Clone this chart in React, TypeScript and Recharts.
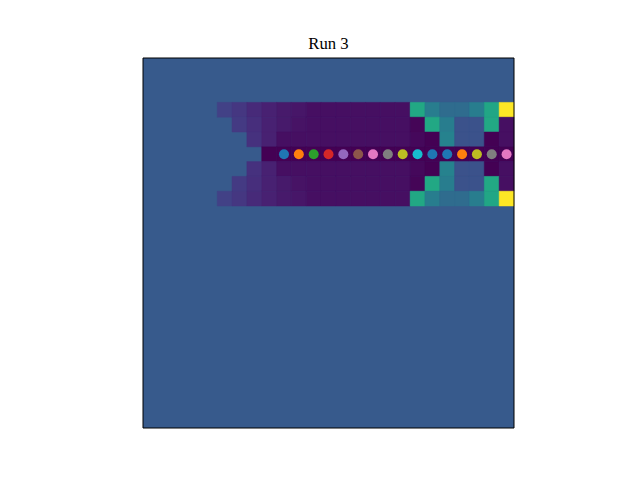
import { ScatterChart, Scatter, XAxis, YAxis, ReferenceArea } from "recharts";

// --- grid data (25 x 25 cells, null = background) ---
const gridSize = 25;
const backgroundValue = 0.28;

const row3 = [null, null, null, null, null, 0.19, 0.16, 0.12, 0.09, 0.07, 0.06, 0.04, 0.04, 0.04, 0.04, 0.04, 0.04, 0.04, 0.6, 0.42, 0.35, 0.35, 0.42, 0.59, 1.0];
const row4 = [null, null, null, null, null, null, 0.17, 0.13, 0.09, 0.07, 0.05, 0.04, 0.04, 0.04, 0.04, 0.04, 0.04, 0.04, 0.01, 0.6, 0.42, 0.25, 0.25, 0.6, 0.04];
const row5 = [null, null, null, null, null, null, null, 0.14, 0.09, 0.04, 0.04, 0.04, 0.04, 0.04, 0.04, 0.04, 0.04, 0.04, 0.02, 0.0, 0.44, 0.25, 0.25, 0.0, 0.04];
const row6 = [null, null, null, null, null, null, null, null, 0.0, 0.0, 0.0, 0.0, 0.0, 0.0, 0.0, 0.0, 0.0, 0.0, 0.0, 0.0, 0.0, 0.0, 0.0, 0.0, 0.0];
const row7 = [null, null, null, null, null, null, null, 0.14, 0.09, 0.04, 0.04, 0.04, 0.04, 0.04, 0.04, 0.04, 0.04, 0.04, 0.02, 0.0, 0.44, 0.25, 0.25, 0.0, 0.04];
const row8 = [null, null, null, null, null, null, 0.17, 0.13, 0.09, 0.07, 0.05, 0.04, 0.04, 0.04, 0.04, 0.04, 0.04, 0.04, 0.01, 0.6, 0.42, 0.25, 0.25, 0.6, 0.04];
const row9 = [null, null, null, null, null, 0.19, 0.16, 0.12, 0.09, 0.07, 0.06, 0.04, 0.04, 0.04, 0.04, 0.04, 0.04, 0.04, 0.6, 0.42, 0.35, 0.35, 0.42, 0.59, 1.0];

const heatRowIndex = [3, 4, 5, 6, 7, 8, 9];
const heatRowValues = [row3, row4, row5, row6, row7, row8, row9];

// --- markers along the centre row ---
const dotRow = 6;
const dotColumns = [9, 10, 11, 12, 13, 14, 15, 16, 17, 18, 19, 20, 21, 22, 23, 24];
const dotColors = [
  "#1f77b4", "#ff7f0e", "#2ca02c", "#d62728", "#9467bd", "#8c564b", "#e377c2", "#7f7f7f",
  "#bcbd22", "#17becf", "#1f77b4", "#1f77b4", "#ff7f0e", "#bcbd22", "#7f7f7f", "#e377c2",
];

const title = "Run 3";

// viridis stops every 0.05
const viridis = [
  "#440154", "#471365", "#482475", "#463480", "#414487", "#3b528b", "#355f8d",
  "#2f6c8e", "#2a788e", "#25848e", "#21918c", "#1e9c89", "#22a884", "#2fb47c",
  "#44bf70", "#5ec962", "#7ad151", "#9bd93c", "#bddf26", "#dfe318", "#fde725",
];

const hexToRgb = (h: string) => [1, 3, 5].map((i) => parseInt(h.slice(i, i + 2), 16));

const colorFor = (v: number) => {
  const t = Math.max(0, Math.min(1, v)) * (viridis.length - 1);
  const i = Math.min(Math.floor(t), viridis.length - 2);
  const f = t - i;
  const a = hexToRgb(viridis[i]);
  const b = hexToRgb(viridis[i + 1]);
  const c = a.map((x, k) => Math.round(x + (b[k] - x) * f));
  return `rgb(${c[0]},${c[1]},${c[2]})`;
};

const cells = heatRowIndex.flatMap((r, ri) =>
  heatRowValues[ri]
    .map((v, c) => ({ r, c, v }))
    .filter((d) => d.v !== null)
);

const dotData = dotColumns.map((c, i) => ({ x: c + 0.5, y: dotRow + 0.5, color: dotColors[i] }));

const Dot = (props: any) => (
  <circle cx={props.cx} cy={props.cy} r={5} fill={props.payload.color} />
);

export default function App() {
  return (
    <div style={{ position: "fixed", left: 0, top: 0, width: 640, height: 480, background: "#fff" }}>
      <svg width={640} height={480} style={{ position: "absolute", left: 0, top: 0 }}>
        <text
          x={328.5}
          y={49}
          textAnchor="middle"
          fontFamily="'Liberation Serif', 'Times New Roman', serif"
          fontSize={16.7}
          fill="#000"
        >
          {title}
        </text>
      </svg>
      <div style={{ position: "absolute", left: 0, top: 0 }}>
        <ScatterChart width={640} height={480} margin={{ top: 58, right: 126, bottom: 52, left: 143 }}>
          <XAxis type="number" dataKey="x" domain={[0, gridSize]} hide allowDataOverflow />
          <YAxis type="number" dataKey="y" domain={[0, gridSize]} reversed hide allowDataOverflow />

          {/* background fill */}
          <ReferenceArea x1={0} x2={gridSize} y1={0} y2={gridSize} fill={colorFor(backgroundValue)} fillOpacity={1} stroke="none" />

          {/* heatmap cells */}
          {cells.map((d) => (
            <ReferenceArea
              key={`${d.r}-${d.c}`}
              x1={d.c}
              x2={d.c + 1}
              y1={d.r}
              y2={d.r + 1}
              fill={colorFor(d.v as number)}
              fillOpacity={1}
              stroke={colorFor(d.v as number)}
              strokeWidth={0.5}
            />
          ))}

          <Scatter data={dotData} shape={<Dot />} isAnimationActive={false} />

          {/* axes frame */}
          <ReferenceArea x1={0} x2={gridSize} y1={0} y2={gridSize} fill="none" stroke="#000" strokeWidth={1} />
        </ScatterChart>
      </div>
    </div>
  );
}
